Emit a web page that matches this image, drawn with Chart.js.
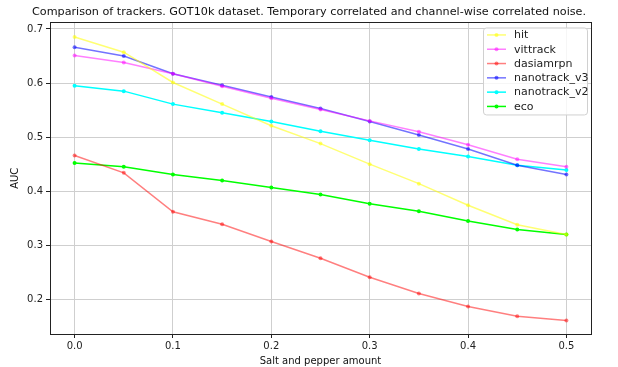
<!DOCTYPE html>
<html>
<head>
<meta charset="utf-8">
<script src="https://cdn.jsdelivr.net/npm/chart.js@4.4.1/dist/chart.umd.min.js"></script>
<style>
  html, body { margin: 0; padding: 0; background: #fff; }
  #wrap { width: 618px; height: 367px; position: relative; }
</style>
</head>
<body>
<div id="wrap"><canvas id="grafico"></canvas></div>
<script>
// valores
const saltPepper = [0.0, 0.05, 0.1, 0.15, 0.2, 0.25, 0.3, 0.35, 0.4, 0.45, 0.5];
const hit         = [0.685, 0.657, 0.601, 0.561, 0.521, 0.488, 0.450, 0.414, 0.374, 0.338, 0.320];
const vittrack    = [0.651, 0.638, 0.617, 0.594, 0.572, 0.551, 0.530, 0.510, 0.486, 0.459, 0.445];
const dasiamrpn   = [0.466, 0.434, 0.362, 0.339, 0.307, 0.276, 0.241, 0.211, 0.187, 0.169, 0.161];
const nanotrackV3 = [0.666, 0.650, 0.617, 0.596, 0.574, 0.553, 0.529, 0.504, 0.478, 0.448, 0.431];
const nanotrackV2 = [0.595, 0.585, 0.561, 0.545, 0.529, 0.511, 0.494, 0.478, 0.464, 0.448, 0.439];
const eco         = [0.452, 0.445, 0.431, 0.420, 0.407, 0.394, 0.377, 0.363, 0.345, 0.329, 0.320];
const xTicks = [0.0, 0.1, 0.2, 0.3, 0.4, 0.5];
const yTicks = [0.2, 0.3, 0.4, 0.5, 0.6, 0.7];

const series = [
  { label: 'hit', values: hit, color: 'rgba(255,255,0,0.55)' },
  { label: 'vittrack', values: vittrack, color: 'rgba(255,0,255,0.5)' },
  { label: 'dasiamrpn', values: dasiamrpn, color: 'rgba(255,0,0,0.5)' },
  { label: 'nanotrack_v3', values: nanotrackV3, color: 'rgba(0,0,255,0.55)' },
  { label: 'nanotrack_v2', values: nanotrackV2, color: 'rgba(0,255,255,1)' },
  { label: 'eco', values: eco, color: 'rgba(0,255,0,1)' }
];

const FONT = 'DejaVu Sans';

// moldura completa + legenda dentro da área do gráfico (estilo matplotlib)
const molduraLegenda = {
  id: 'molduraLegenda',
  afterDatasetsDraw(chart) {
    const { ctx, chartArea: a } = chart;
    ctx.save();
    ctx.strokeStyle = '#222';
    ctx.lineWidth = 1;
    ctx.strokeRect(Math.round(a.left) + 0.5, Math.round(a.top) + 0.5,
                   Math.round(a.right - a.left), Math.round(a.bottom - a.top));

    const bx = a.right - 108, by = a.top + 5, bw = 104, bh = 87;
    ctx.fillStyle = 'rgba(255,255,255,0.8)';
    ctx.strokeStyle = '#d0d0d0';
    ctx.beginPath();
    ctx.roundRect(bx + 0.5, by + 0.5, bw, bh, 3);
    ctx.fill();
    ctx.stroke();

    ctx.font = '11px ' + FONT;
    ctx.textBaseline = 'middle';
    chart.data.datasets.forEach((ds, i) => {
      const y = by + 7.5 + i * 14.3;
      ctx.strokeStyle = ds.borderColor;
      ctx.lineWidth = 1.5;
      ctx.beginPath();
      ctx.moveTo(bx + 4, y);
      ctx.lineTo(bx + 23, y);
      ctx.stroke();
      ctx.fillStyle = ds.borderColor;
      ctx.beginPath();
      ctx.arc(bx + 13.5, y, 2, 0, Math.PI * 2);
      ctx.fill();
      ctx.fillStyle = '#222';
      ctx.fillText(ds.label, bx + 31, y + 0.5);
    });
    ctx.restore();
  }
};

new Chart(document.getElementById('grafico'), {
  type: 'line',
  data: {
    datasets: series.map(s => ({
      label: s.label,
      data: saltPepper.map((x, i) => ({ x: x, y: s.values[i] })),
      borderColor: s.color,
      backgroundColor: s.color,
      borderWidth: 1.5,
      pointRadius: 2,
      pointBorderWidth: 0,
      tension: 0,
      fill: false
    }))
  },
  options: {
    responsive: true,
    maintainAspectRatio: false,
    animation: false,
    layout: { padding: 0 },
    plugins: {
      legend: { display: false },
      tooltip: { enabled: false },
      title: {
        display: true,
        text: 'Comparison of trackers. GOT10k dataset. Temporary correlated and channel-wise correlated noise.',
        color: '#111',
        font: { family: FONT, size: 11.2, weight: 'normal' },
        padding: { top: 5, bottom: 4 }
      }
    },
    scales: {
      x: {
        type: 'linear',
        min: -0.025,
        max: 0.525,
        afterBuildTicks: (scale) => { scale.ticks = xTicks.map(v => ({ value: v })); },
        afterFit: (scale) => { scale.height = 33; },
        ticks: {
          callback: (v) => v.toFixed(1),
          color: '#222',
          font: { family: FONT, size: 10 },
          padding: 2,
          maxRotation: 0
        },
        grid: { color: '#cfcfcf', lineWidth: 1, tickColor: '#222', tickLength: 4 },
        border: { color: '#222' },
        title: {
          display: true,
          text: 'Salt and pepper amount',
          color: '#111',
          font: { family: FONT, size: 10 },
          padding: { top: 0, bottom: 0 }
        }
      },
      y: {
        type: 'linear',
        min: 0.136,
        max: 0.712,
        afterBuildTicks: (scale) => { scale.ticks = yTicks.map(v => ({ value: v })); },
        afterFit: (scale) => { scale.width = 50; },
        ticks: {
          callback: (v) => v.toFixed(1),
          color: '#222',
          font: { family: FONT, size: 10 },
          padding: 3
        },
        grid: { color: '#cfcfcf', lineWidth: 1, tickColor: '#222', tickLength: 4 },
        border: { color: '#222' },
        title: {
          display: true,
          text: 'AUC',
          color: '#111',
          font: { family: FONT, size: 10 },
          padding: { top: 9, bottom: 0 }
        }
      },
      // eixo vazio só para reservar a margem direita
      margemDireita: {
        type: 'linear',
        position: 'right',
        display: true,
        afterFit: (scale) => { scale.width = 27; },
        ticks: { display: false },
        grid: { display: false, drawTicks: false },
        border: { display: false }
      }
    }
  },
  plugins: [molduraLegenda]
});
</script>
</body>
</html>
